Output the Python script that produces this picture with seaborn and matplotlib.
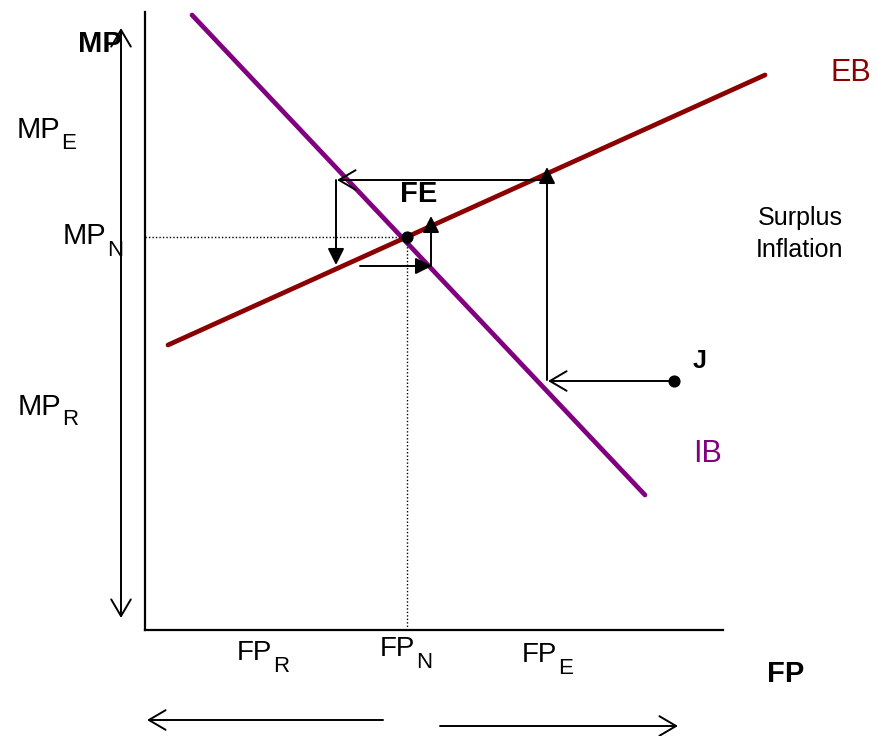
import matplotlib
matplotlib.use('Agg')
import matplotlib.pyplot as plt
import seaborn as sns
import pandas as pd

# curve endpoints (FP, MP) in diagram units, origin at the axes corner
ib_fp = [47, 500]
ib_mp = [615, 135]
eb_fp = [23, 620]
eb_mp = [285, 555]

fe_point = (262, 393)
j_point = (529, 249)

# adjustment arrows: (start, end, filled head?)
adjust_arrows = [
    ((402, 450), (192, 450), False),
    ((191, 450), (191, 365), True),
    ((215, 364), (287, 364), True),
    ((286, 364), (286, 414), True),
    ((402, 250), (402, 463), True),
    ((529, 249), (403, 249), False),
]
side_arrows = [
    ((-24, 602), (-24, 12), '<->'),
    ((238, -90), (2, -90), '->'),
    ((295, -96), (533, -96), '->'),
]

# level labels with subscripts: (main, sub, x, baseline, sub baseline, size)
level_labels = [
    ('MP', 'E', -128, 492, 481, 21),
    ('MP', 'N', -82, 386, 374, 21),
    ('MP', 'R', -127, 215, 205, 21),
    ('FP', 'R', 92, -30, -42, 20),
    ('FP', 'N', 235, -26, -38, 20),
    ('FP', 'E', 377, -32, -44, 20),
]

sns.set_theme(style='white')
plt.rcParams['font.family'] = ['Liberation Sans', 'DejaVu Sans']
plt.rcParams['text.color'] = 'black'

fig = plt.figure(figsize=(8.78, 7.36), dpi=100)
ax = fig.add_axes([0, 0, 1, 1])
ax.set_xlim(-145, 733)
ax.set_ylim(-106, 630)

curves = pd.DataFrame({
    'FP': ib_fp + eb_fp,
    'MP': ib_mp + eb_mp,
    'curve': ['IB', 'IB', 'EB', 'EB'],
})
sns.lineplot(data=curves, x='FP', y='MP', hue='curve',
             palette={'IB': '#800080', 'EB': '#8b0000'},
             linewidth=3.4, legend=False, ax=ax, sort=False)

# axes as spines
for side in ['top', 'right']:
    ax.spines[side].set_visible(False)
ax.spines['left'].set_position(('data', 0))
ax.spines['bottom'].set_position(('data', 0))
ax.spines['left'].set_bounds(0, 618)
ax.spines['bottom'].set_bounds(0, 578)
for side in ['left', 'bottom']:
    ax.spines[side].set_color('black')
    ax.spines[side].set_linewidth(1.6)
ax.set_xticks([])
ax.set_yticks([])
ax.set_xlabel('')
ax.set_ylabel('')
ax.patch.set_alpha(0)

# dotted guides to FE
ax.plot([0, fe_point[0]], [fe_point[1], fe_point[1]], color='black',
        linestyle=(0, (1, 1.5)), linewidth=1)
ax.plot([fe_point[0], fe_point[0]], [0, fe_point[1]], color='black',
        linestyle=(0, (1, 1.5)), linewidth=1)

open_head = ',head_length=0.8,head_width=0.47'
for start, end, filled in adjust_arrows:
    if filled:
        props = dict(arrowstyle='-|>', color='black', lw=1.4,
                     mutation_scale=25, shrinkA=0, shrinkB=0)
    else:
        props = dict(arrowstyle='->' + open_head, color='black', lw=1.4,
                     mutation_scale=15, shrinkA=0, shrinkB=0)
    ax.annotate('', xy=end, xytext=start, arrowprops=props)

for start, end, style in side_arrows:
    ax.annotate('', xy=end, xytext=start,
                arrowprops=dict(arrowstyle=style + open_head, color='black',
                                lw=1.4, mutation_scale=15,
                                shrinkA=0, shrinkB=0))

ax.scatter([fe_point[0], j_point[0]], [fe_point[1], j_point[1]],
           s=60, color='black', zorder=5)

# labels
for main, sub, x, y, y_sub, size in level_labels:
    t = ax.text(x, y, main, fontsize=size, ha='left', va='baseline')
    ax.annotate(sub, xy=(1, y_sub), xycoords=(t, 'data'),
                xytext=(0.5, 0), textcoords='offset points',
                fontsize=16, ha='left', va='baseline')

ax.text(-67, 578, 'MP', fontsize=21, fontweight='bold', ha='left', va='baseline')
ax.text(622, -52, 'FP', fontsize=21, fontweight='bold', ha='left', va='baseline')
ax.text(255, 428, 'FE', fontsize=21, fontweight='bold', ha='left', va='baseline')
ax.text(548, 262, 'J', fontsize=18, fontweight='bold', ha='left', va='baseline')
ax.text(686, 549, 'EB', fontsize=22, color='#8b0000', ha='left', va='baseline')
ax.text(548, 168, 'IB', fontsize=22, color='#800080', ha='left', va='baseline')
ax.text(655, 405, 'Surplus', fontsize=18, ha='center', va='baseline')
ax.text(655, 373, 'Inflation', fontsize=18, ha='center', va='baseline')

fig.savefig('out.png', dpi=100)
